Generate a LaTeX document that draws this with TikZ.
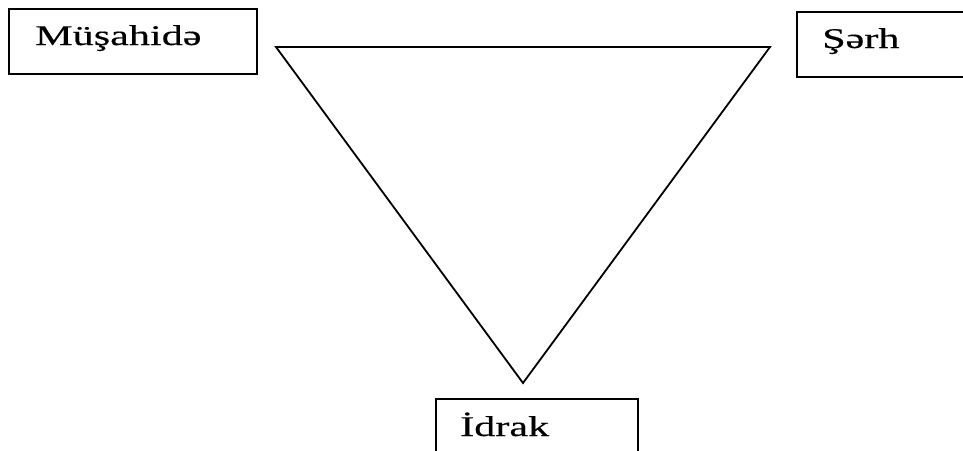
\documentclass[tikz,border=0pt]{standalone}
\usepackage{fontspec}
\setmainfont{Liberation Serif}[FakeStretch=1.48,FakeBold=0.4]
\begin{document}
\begin{tikzpicture}[x=1pt,y=-1pt,
  boxshape/.style={draw, line width=1.8pt, rectangle, inner sep=0pt},
  label/.style={anchor=base west, inner sep=0pt, font=\fontsize{28.5}{32}\selectfont},
  tri/.style={line width=1.8pt, line join=miter}]
\useasboundingbox (0,0) rectangle (963,450);
\clip (0,0) rectangle (963,450);
\node[boxshape, minimum width=248pt, minimum height=65pt] (mbox) at (133,41.5) {};
\node[boxshape, minimum width=180pt, minimum height=65pt] (sbox) at (887,44.5) {};
\node[boxshape, minimum width=202pt, minimum height=70pt] (ibox) at (537,434) {};
\node[label] (mtext) at (35,45) {Müşahidə};
\node[label] (stext) at (822,48) {Şərh};
\node[label] (itext) at (460,436) {İdrak};
\coordinate (tl) at (276,47);
\coordinate (tr) at (770,47);
\coordinate (bt) at (523,383);
\draw[tri] (tl) -- (tr) -- (bt) -- cycle;
\end{tikzpicture}
\end{document}
